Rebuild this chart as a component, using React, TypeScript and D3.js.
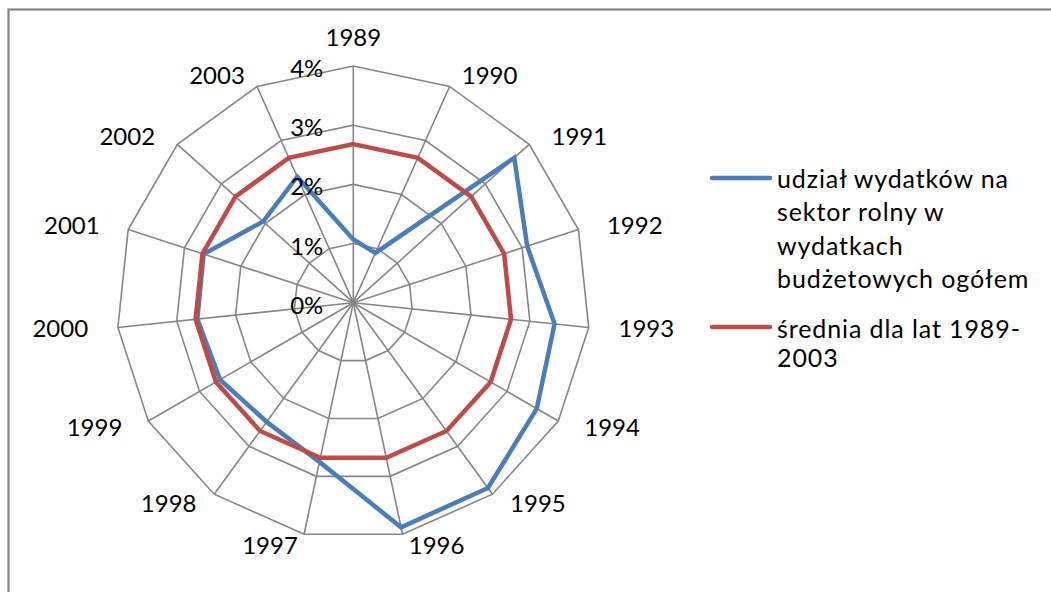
import * as d3 from "d3";
import { useEffect, useRef } from "react";

// lata (osie wykresu radarowego)
const years = [
  "1989", "1990", "1991", "1992", "1993", "1994", "1995", "1996",
  "1997", "1998", "1999", "2000", "2001", "2002", "2003",
];

// udział wydatków na sektor rolny w wydatkach budżetowych ogółem (%)
const udzial = [
  1.07, 0.92, 3.66, 3.09, 3.42, 3.58, 3.87, 3.88,
  2.75, 2.49, 2.6, 2.65, 2.66, 2.05, 2.33,
];

// średnia dla lat 1989-2003 (%)
const srednia = [
  2.68, 2.68, 2.68, 2.68, 2.68, 2.68, 2.68, 2.68,
  2.68, 2.68, 2.68, 2.68, 2.68, 2.68, 2.68,
];

const ticks = [0, 1, 2, 3, 4];
const tickLabels = ["0%", "1%", "2%", "3%", "4%"];

const legendBlue = ["udział wydatków na", "sektor rolny w", "wydatkach", "budżetowych ogółem"];
const legendRed = ["średnia dla lat 1989-", "2003"];

const W = 1051;
const H = 592;
const FONT = "Lato, 'Open Sans', sans-serif";
const GRID = "#868686";
const BLUE = "#4A7EBB";
const RED = "#BE4B48";

export default function App() {
  const svgRef = useRef<SVGSVGElement>(null);

  useEffect(() => {
    const svg = d3.select(svgRef.current);
    svg.selectAll("*").remove();

    // ramka wykresu (prawa i dolna krawędź poza kadrem)
    svg.append("rect")
      .attr("x", 8.5).attr("y", 9.5)
      .attr("width", W + 20).attr("height", H + 20)
      .attr("fill", "#fff")
      .attr("stroke", GRID).attr("stroke-width", 2.2);

    const cx = 353.3;
    const cy = 302.7;
    const R = 236.7;

    const angle = d3.scaleLinear().domain([0, years.length]).range([0, 2 * Math.PI]);
    const r = d3.scaleLinear().domain([0, 4]).range([0, R]);

    const g = svg.append("g").attr("transform", `translate(${cx},${cy})`);

    const ring = d3.lineRadial<number>()
      .angle((_, i) => angle(i))
      .radius((d) => r(d))
      .curve(d3.curveLinearClosed);

    // siatka: wielokąty
    g.selectAll(".grid")
      .data(ticks.filter((t) => t > 0))
      .join("path")
      .attr("d", (t) => ring(years.map(() => t)))
      .attr("fill", "none")
      .attr("stroke", GRID)
      .attr("stroke-width", 1.6);

    // osie
    g.selectAll(".spoke")
      .data(years)
      .join("line")
      .attr("x1", 0).attr("y1", 0)
      .attr("x2", (_, i) => r(4) * Math.sin(angle(i)))
      .attr("y2", (_, i) => -r(4) * Math.cos(angle(i)))
      .attr("stroke", GRID)
      .attr("stroke-width", 1.6);

    // serie
    [udzial, srednia].forEach((vals, k) => {
      g.append("path")
        .attr("d", ring(vals))
        .attr("fill", "none")
        .attr("stroke", k === 0 ? BLUE : RED)
        .attr("stroke-width", 4.5)
        .attr("stroke-linejoin", "miter");
    });

    // etykiety wartości
    g.selectAll(".tick")
      .data(ticks)
      .join("text")
      .attr("x", -30)
      .attr("y", (t) => -r(t) + 2.5 + 8.5)
      .attr("text-anchor", "end")
      .attr("font-family", FONT)
      .attr("font-size", 24)
      .attr("fill", "#000")
      .text((_, i) => tickLabels[i]);

    // etykiety lat
    g.selectAll(".year")
      .data(years)
      .join("text")
      .each(function (d, i) {
        const a = angle(i);
        const s = Math.sin(a);
        const c = Math.cos(a);
        const px = r(4) * s;
        const py = -r(4) * c;
        let x = px;
        let yc = py;
        let anchor = "middle";
        if (Math.abs(s) < 0.05) {
          yc = py - 29 * c;
        } else {
          anchor = s > 0 ? "start" : "end";
          x = px + Math.sign(s) * 30 * Math.abs(s);
          yc = py - 12 * c;
        }
        d3.select(this)
          .attr("x", x)
          .attr("y", yc + 8.5)
          .attr("text-anchor", anchor)
          .attr("font-family", FONT)
          .attr("font-size", 24)
          .attr("fill", "#000")
          .text(d);
      });

    // legenda
    const legend = svg.append("g");
    const entries = [
      { color: BLUE, lineY: 178, lines: legendBlue, base: 188, step: 33.3 },
      { color: RED, lineY: 327, lines: legendRed, base: 338, step: 29 },
    ];
    entries.forEach((e) => {
      legend.append("line")
        .attr("x1", 712).attr("x2", 770)
        .attr("y1", e.lineY).attr("y2", e.lineY)
        .attr("stroke", e.color)
        .attr("stroke-width", 4.5)
        .attr("stroke-linecap", "round");
      e.lines.forEach((t, j) => {
        legend.append("text")
          .attr("x", 777)
          .attr("y", e.base + j * e.step)
          .attr("font-family", FONT)
          .attr("font-size", 25)
          .attr("letter-spacing", 0.9)
          .attr("fill", "#000")
          .text(t);
      });
    });
  }, []);

  return (
    <svg
      ref={svgRef}
      width={W}
      height={H}
      style={{ position: "absolute", left: 0, top: 0, display: "block" }}
    />
  );
}
